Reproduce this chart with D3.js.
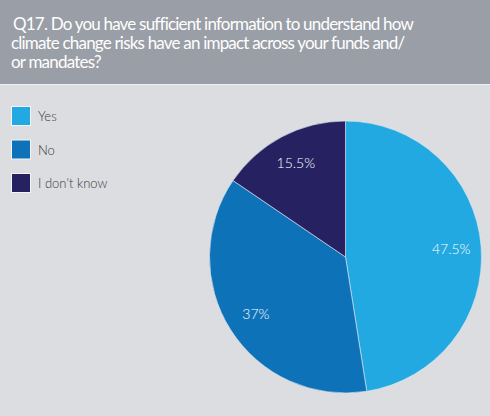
<!DOCTYPE html>
<html>
<head>
<meta charset="utf-8">
<script src="https://cdn.jsdelivr.net/npm/d3@7"></script>
<style>
  html, body { margin: 0; padding: 0; background: #dcdde1; }
  svg { display: block; }
</style>
</head>
<body>
<div id="chart"></div>
<script>
var categories = ['Yes', 'No', "I don't know"];
var values = [47.5, 37, 15.5];
var labels = ['47.5%', '37%', '15.5%'];
var colors = ['#23a9e1', '#0e72b9', '#262262'];
var titleLines = [
  'Q17. Do you have sufficient information to understand how',
  'climate change risks have an impact across your funds and/',
  'or mandates?'
];

var width = 490, height = 416;
var cx = 345.5, cy = 257, r = 136;

var svg = d3.select('#chart').append('svg')
    .attr('width', width)
    .attr('height', height);

svg.append('rect')
    .attr('width', width).attr('height', height)
    .attr('fill', '#dcdde1');

// header band
svg.append('rect')
    .attr('width', width).attr('height', 84)
    .attr('fill', '#9a9ea6');
svg.append('rect')
    .attr('y', 84).attr('width', width).attr('height', 1)
    .attr('fill', '#eceef1');

svg.append('g').selectAll('text')
    .data(titleLines)
  .enter().append('text')
    .attr('x', function(d, i) { return i === 0 ? 13 : 11; })
    .attr('y', function(d, i) { return 30 + i * 19; })
    .attr('fill', '#ffffff')
    .style('font-family', 'Lato, sans-serif')
    .style('font-size', '17px')
    .style('letter-spacing', '-0.8px')
    .text(function(d) { return d; });

// legend
var legend = svg.append('g').selectAll('.legend')
    .data(categories)
  .enter().append('g')
    .attr('class', 'legend')
    .attr('transform', function(d, i) { return 'translate(11,' + (106 + i * 33.5) + ')'; });

legend.append('rect')
    .attr('x', 0.5).attr('y', 0.5)
    .attr('width', 19).attr('height', 19)
    .attr('fill', function(d, i) { return colors[i]; })
    .attr('stroke', '#f2f4f6')
    .attr('stroke-width', 1);

legend.append('text')
    .attr('x', 27)
    .attr('y', 15)
    .attr('fill', '#3a3a3a')
    .style('font-family', 'Lato, sans-serif')
    .style('font-weight', 300)
    .style('font-size', '13px')
    .text(function(d) { return d; });

// pie
var pie = d3.pie().sort(null).value(function(d) { return d; });
var arc = d3.arc().innerRadius(0).outerRadius(r);
var labelArc = d3.arc().innerRadius(r * 0.56).outerRadius(r);

var g = svg.append('g')
    .attr('transform', 'translate(' + cx + ',' + cy + ')');

var slices = g.selectAll('.slice')
    .data(pie(values))
  .enter().append('g')
    .attr('class', 'slice');

slices.append('path')
    .attr('d', arc)
    .attr('fill', function(d, i) { return colors[i]; })
    .attr('stroke', '#dfe8f0')
    .attr('stroke-width', 0.6);

slices.append('text')
    .attr('transform', function(d) { return 'translate(' + labelArc.centroid(d) + ')'; })
    .attr('text-anchor', 'middle')
    .attr('dy', '0.35em')
    .attr('fill', '#ffffff')
    .style('font-family', 'Lato, sans-serif')
    .style('font-weight', 300)
    .style('font-size', '14px')
    .text(function(d, i) { return labels[i]; });
</script>
</body>
</html>
